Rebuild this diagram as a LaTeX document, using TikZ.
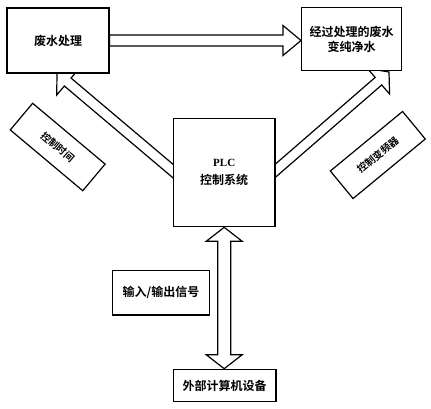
\documentclass[tikz,border=0pt]{standalone}
\usepackage{fontspec}
\newfontfamily\cjk{Noto Sans CJK SC}[BoldFont={Noto Sans CJK SC Bold}]
\newfontfamily\tnr{Liberation Serif}
\usetikzlibrary{calc}
\pgfdeclarelayer{bg}
\pgfsetlayers{bg,main}
\tikzset{
  box/.style={draw, line width=1.2pt, fill=white, inner sep=0pt, align=center,
    font=\cjk\bfseries\fontsize{12}{15}\selectfont},
  lbl/.style={draw, line width=1.2pt, fill=white, inner sep=0pt,
    font=\cjk\bfseries\fontsize{10}{12}\selectfont},
  barrow/.style={draw, line width=1.2pt, fill=white, line join=miter},
}
% start, tip, shaft half width, head half width, head length
\newcommand\blockarrow[5]{%
  \path ($(#2)!#5!(#1)$) coordinate (bah);
  \draw[barrow] ($(#1)!#3!90:(#2)$) -- ($(bah)!#3!90:(#2)$) -- ($(bah)!#4!90:(#2)$)
    -- (#2) -- ($(bah)!#4!-90:(#2)$) -- ($(bah)!#3!-90:(#2)$) -- ($(#1)!#3!-90:(#2)$) -- cycle;
}
% tip A, tip B, shaft half width, head half width, head length
\newcommand\dblockarrow[5]{%
  \path ($(#1)!#5!(#2)$) coordinate (bha) ($(#2)!#5!(#1)$) coordinate (bhb);
  \draw[barrow] (#1) -- ($(bha)!#4!90:(#2)$) -- ($(bha)!#3!90:(#2)$) -- ($(bhb)!#3!90:(#2)$)
    -- ($(bhb)!#4!90:(#2)$) -- (#2) -- ($(bhb)!#4!-90:(#2)$) -- ($(bhb)!#3!-90:(#2)$)
    -- ($(bha)!#3!-90:(#2)$) -- ($(bha)!#4!-90:(#2)$) -- cycle;
}
\begin{document}
\begin{tikzpicture}[x=1pt,y=-1pt]
\useasboundingbox (0,0) rectangle (431,408);
\node[box, minimum width=102pt, minimum height=65pt] (wt) at (58,40.5) {废水处理};
\node[box, minimum width=100pt, minimum height=63.4pt] (pw) at (351.6,39) {经过处理的废水\\变纯净水};
\node[box, minimum width=101.7pt, minimum height=108.4pt] (plc) at (224.2,172.5)
  {{\tnr\bfseries\fontsize{11}{13}\selectfont PLC}\\[3pt]控制系统};
\node[box, minimum width=102.7pt, minimum height=32.4pt] (pc) at (224.7,385.5) {外部计算机设备};
\node[box, minimum width=96.6pt, minimum height=44.3pt] (io) at (161,292.8) {输入/输出信号};
\node[lbl, minimum width=94.6pt, minimum height=34.8pt, rotate=-40] (lc) at (57.7,147) {控制时间};
\node[lbl, minimum width=93.6pt, minimum height=35.7pt, rotate=39.5] (rc) at (377.8,155) {控制变频器};

\coordinate (ta) at (wt.east);
\coordinate (tb) at (wt.east -| pw.west);
\coordinate (lt) at (57,73);
\coordinate (ls) at (181.7,178.4);
\coordinate (rt) at (389,72);
\coordinate (rs) at (267,178);
\coordinate (da) at (plc.south);
\coordinate (db) at (plc.south |- pc.north);

\begin{pgfonlayer}{bg}
\blockarrow{ta}{tb}{5.5pt}{15pt}{18pt}
\blockarrow{ls}{lt}{5.2pt}{17pt}{14pt}
\blockarrow{rs}{rt}{5pt}{17pt}{14pt}
\dblockarrow{da}{db}{6.5pt}{18pt}{14pt}
\end{pgfonlayer}
\end{tikzpicture}
\end{document}
